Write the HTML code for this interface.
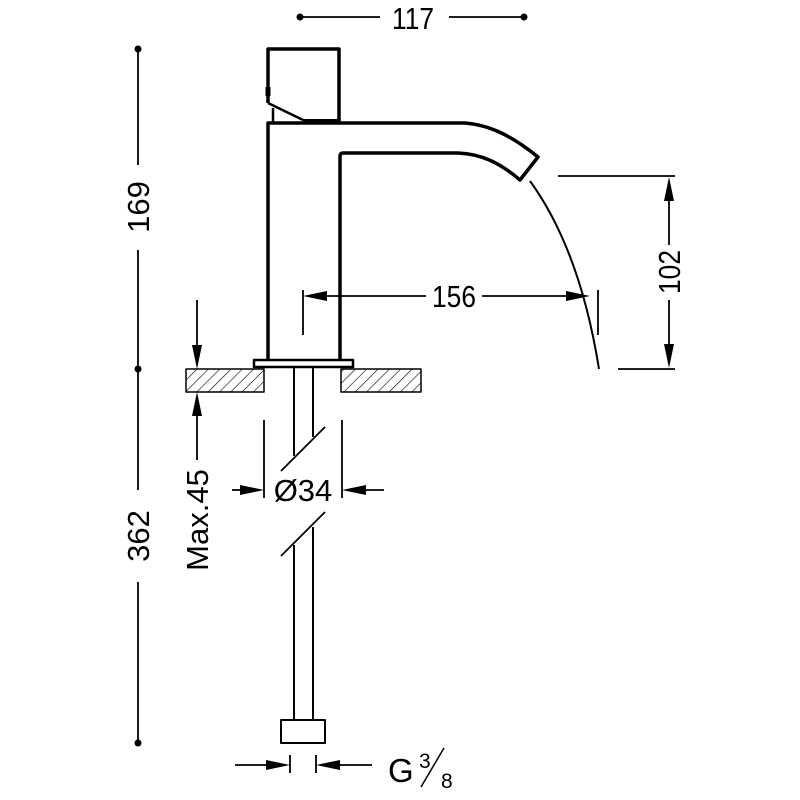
<!DOCTYPE html>
<html><head><meta charset="utf-8"><style>
html,body{margin:0;padding:0;background:#fff;width:800px;height:800px;overflow:hidden}
svg text{font-family:"Liberation Sans",sans-serif;fill:#000}
</style></head><body>
<svg width="800" height="800" viewBox="0 0 800 800" xmlns="http://www.w3.org/2000/svg">
<defs>
<pattern id="h" patternUnits="userSpaceOnUse" width="8" height="8" patternTransform="rotate(45)">
<line x1="0" y1="0" x2="0" y2="8" stroke="#000" stroke-width="1.2"/>
</pattern>
</defs>
<g fill="none" stroke="#000" stroke-linejoin="round">
<!-- handle -->
<path d="M268,103 L268,49 L339,49 L339,122" stroke-width="3.5"/>
<path d="M268,103 L303,120" stroke-width="2.5"/>
<line x1="273" y1="108" x2="273" y2="122" stroke-width="2.5"/>
<line x1="303" y1="121" x2="339" y2="121" stroke-width="4"/>
<line x1="268" y1="87" x2="268" y2="96" stroke-width="5"/>
<!-- body -->
<path d="M268,360 L268,123 L465,123 C490,125 512,136 538,157 L520,180 C500,163 482,154 458,153 L343,153 Q340,153 340,157 L340,360" stroke-width="3.5"/>
<!-- base plate -->
<rect x="254" y="360" width="99" height="7" stroke-width="2.5"/>
<!-- counter -->
<rect x="186" y="369" width="78" height="23" fill="url(#h)" stroke-width="1.5"/>
<rect x="341" y="369" width="80" height="23" fill="url(#h)" stroke-width="1.5"/>
<!-- pipe -->
<path d="M294,367 L294,456 M313,367 L313,437" stroke-width="2"/>
<path d="M294,545 L294,720 M313,527 L313,720" stroke-width="2"/>
<path d="M281,471 L325,427 M281,556 L325,512" stroke-width="1.8"/>
<rect x="281" y="720" width="44" height="23" stroke-width="2"/>
<!-- water -->
<path d="M530,181 Q580,250 599,369" stroke-width="2"/>
</g>
<g stroke="#000" stroke-width="1.8" fill="none">
<line x1="300" y1="17" x2="380" y2="17"/><line x1="449" y1="17" x2="524" y2="17"/>
<line x1="138" y1="49" x2="138" y2="165"/><line x1="138" y1="250" x2="138" y2="369"/>
<line x1="138" y1="369" x2="138" y2="490"/><line x1="138" y1="582" x2="138" y2="743"/>
<line x1="197" y1="300" x2="197" y2="345"/><line x1="197" y1="416" x2="197" y2="460"/>
<line x1="303" y1="290" x2="303" y2="335"/><line x1="598" y1="290" x2="598" y2="335"/>
<line x1="320" y1="296" x2="426" y2="296"/><line x1="482" y1="296" x2="572" y2="296"/>
<line x1="558" y1="176" x2="675" y2="176"/><line x1="618" y1="369" x2="675" y2="369"/>
<line x1="669" y1="195" x2="669" y2="245"/><line x1="669" y1="300" x2="669" y2="350"/>
<line x1="264" y1="420" x2="264" y2="498"/><line x1="342" y1="420" x2="342" y2="498"/>
<line x1="232" y1="490" x2="248" y2="490"/><line x1="358" y1="490" x2="384" y2="490"/>
<line x1="290" y1="755" x2="290" y2="773"/><line x1="316" y1="755" x2="316" y2="773"/>
<line x1="235" y1="765" x2="272" y2="765"/><line x1="334" y1="765" x2="372" y2="765"/>
<line x1="421" y1="787" x2="444" y2="748" stroke-width="1.5"/>
</g>
<g fill="#000">
<circle cx="300" cy="17" r="3.5"/><circle cx="524" cy="17" r="3.5"/>
<circle cx="138" cy="49" r="3.5"/><circle cx="138" cy="369" r="3.5"/><circle cx="138" cy="743" r="3.5"/>
<polygon points="197,369 192,345 202,345"/><polygon points="197,392 192,416 202,416"/>
<polygon points="303,296 327,291 327,301"/><polygon points="590,296 566,291 566,301"/>
<polygon points="669,177 664,201 674,201"/><polygon points="669,368 664,344 674,344"/>
<polygon points="264,490 240,485 240,495"/><polygon points="342,490 366,485 366,495"/>
<polygon points="290,765 266,760 266,770"/><polygon points="316,765 340,760 340,770"/>
</g>
<text font-size="31" text-anchor="middle" transform="translate(413,29) scale(0.85,1)">117</text>
<text font-size="31" text-anchor="middle" transform="translate(454,307) scale(0.85,1)">156</text>
<text font-size="31" text-anchor="middle" transform="translate(149,207) rotate(-90)">169</text>
<text font-size="31" text-anchor="middle" transform="translate(149,536) rotate(-90)">362</text>
<text font-size="31" text-anchor="middle" transform="translate(208,520) rotate(-90)">Max.45</text>
<text font-size="31" text-anchor="middle" transform="translate(680,272) rotate(-90) scale(0.85,1)">102</text>
<text x="303" y="501" font-size="31" text-anchor="middle">Ø34</text>
<text x="388" y="782" font-size="33">G</text>
<text x="419" y="768" font-size="21">3</text>
<text x="441" y="788" font-size="21">8</text>
</svg>
</body></html>
